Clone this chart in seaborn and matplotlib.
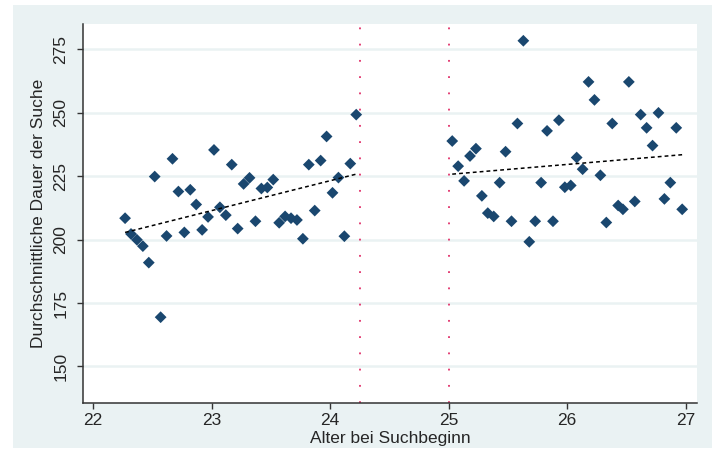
import numpy as np
import pandas as pd
import matplotlib
matplotlib.use("Agg")
import matplotlib.pyplot as plt
import seaborn as sns
from matplotlib.patches import Rectangle

# Alter bei Suchbeginn / durchschnittliche Suchdauer, vor der Grenze
alter_vor = [22.27, 22.32, 22.37, 22.42, 22.47, 22.52, 22.57, 22.62, 22.67, 22.72,
             22.77, 22.82, 22.87, 22.92, 22.97, 23.02, 23.07, 23.12, 23.17, 23.22,
             23.27, 23.32, 23.37, 23.42, 23.47, 23.52, 23.57, 23.62, 23.67, 23.72,
             23.77, 23.82, 23.87, 23.92, 23.97, 24.02, 24.07, 24.12, 24.17, 24.22]
dauer_vor = [208.4, 202.2, 199.9, 197.4, 190.9, 224.8, 169.4, 201.4, 231.8, 218.9,
             202.8, 219.6, 213.8, 203.8, 208.9, 235.3, 212.7, 209.6, 229.5, 204.3,
             221.9, 224.3, 207.2, 220.1, 220.5, 223.6, 206.6, 209.1, 208.4, 207.7,
             200.3, 229.5, 211.4, 231.1, 240.6, 218.4, 224.4, 201.3, 229.9, 249.2]

# nach der Grenze
alter_nach = [25.03, 25.08, 25.13, 25.18, 25.23, 25.28, 25.33, 25.38, 25.43, 25.48,
              25.53, 25.58, 25.63, 25.68, 25.73, 25.78, 25.83, 25.88, 25.93, 25.98,
              26.03, 26.08, 26.13, 26.18, 26.23, 26.28, 26.33, 26.38, 26.43, 26.47,
              26.52, 26.57, 26.62, 26.67, 26.72, 26.77, 26.82, 26.87, 26.92, 26.97]
dauer_nach = [238.8, 228.9, 223.1, 232.9, 235.8, 217.2, 210.4, 209.1, 222.4, 234.6,
              207.2, 245.7, 278.3, 199.1, 207.2, 222.4, 242.8, 207.2, 247.0, 220.6,
              221.3, 232.3, 227.7, 262.1, 255.0, 225.3, 206.7, 245.7, 213.4, 211.9,
              262.1, 215.0, 249.2, 244.0, 237.0, 249.9, 216.0, 222.4, 244.0, 211.9]

grenzen = [24.25, 25.0]
x_ticks = [22, 23, 24, 25, 26, 27]
y_ticks = [150, 175, 200, 225, 250, 275]

data = pd.DataFrame({
    "alter": alter_vor + alter_nach,
    "dauer": dauer_vor + dauer_nach,
    "gruppe": ["vor"] * len(alter_vor) + ["nach"] * len(alter_nach),
})

sns.set_style("white")
plt.rcParams["font.family"] = ["Liberation Sans", "DejaVu Sans"]

navy = "#1a476f"
bg = "#eaf2f3"

fig = plt.figure(figsize=(7.19, 4.49), dpi=100)
fig.patches.append(Rectangle((13 / 719, 1 / 449), 699 / 719, 443 / 449,
                             transform=fig.transFigure, facecolor=bg,
                             edgecolor="none", zorder=-10))
ax = fig.add_axes([83 / 719, 46 / 449, 614 / 719, 379 / 449])
ax.set_facecolor("white")

# Grid
for yv in y_ticks:
    ax.axhline(yv, color=bg, lw=1.8, zorder=0)

# Grenzlinien
for g in grenzen:
    ax.axvline(g, color="#e0306a", lw=1.3, linestyle=(0, (1, 8)), zorder=1)

sns.scatterplot(data=data, x="alter", y="dauer", marker="D", s=36,
                color=navy, edgecolor="none", ax=ax, zorder=3, legend=False)

for grp in ["vor", "nach"]:
    sub = data[data["gruppe"] == grp]
    sns.regplot(data=sub, x="alter", y="dauer", scatter=False, ci=None, ax=ax,
                line_kws={"color": "black", "lw": 1.1, "linestyle": (0, (2.5, 2)),
                          "zorder": 4})

ax.set_xlim(21.915, 27.095)
ax.set_ylim(135.6, 284.9)
ax.set_xticks(x_ticks)
ax.set_yticks(y_ticks)
ax.set_xticklabels([str(t) for t in x_ticks], fontsize=12.5)
ax.set_yticklabels([str(t) for t in y_ticks], fontsize=12.5, rotation=90, va="center")
ax.tick_params(axis="both", direction="out", length=4.5, width=1, color="#333333",
               left=True, bottom=True)
ax.tick_params(axis="y", pad=6)
ax.tick_params(axis="x", pad=3)

ax.set_xlabel("Alter bei Suchbeginn", fontsize=12.5, labelpad=1.5)
ax.set_ylabel("Durchschnittliche Dauer der Suche", fontsize=12.5, labelpad=5)

sns.despine(ax=ax)
for s in ["left", "bottom"]:
    ax.spines[s].set_color("#333333")
    ax.spines[s].set_linewidth(1.1)

fig.savefig("out.png", dpi=100, facecolor="white")
